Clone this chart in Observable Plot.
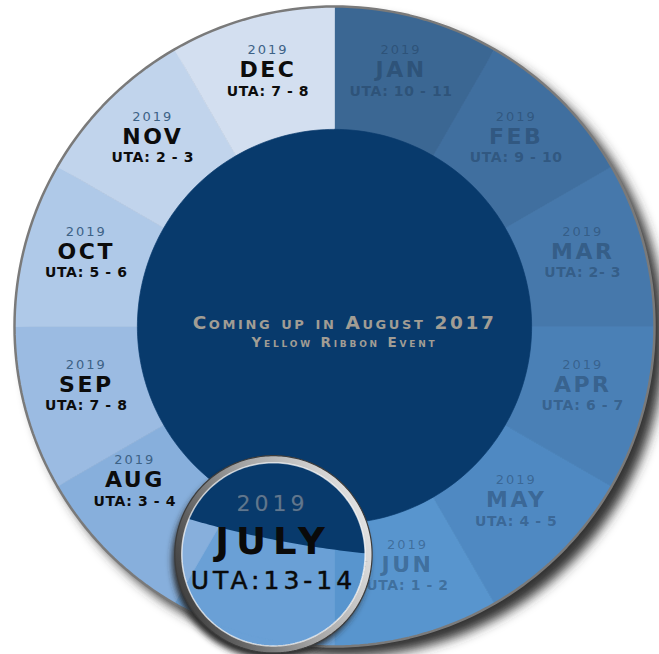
<!DOCTYPE html>
<html>
<head>
<meta charset="utf-8">
<script src="https://cdn.jsdelivr.net/npm/d3@7"></script>
<script src="https://cdn.jsdelivr.net/npm/@observablehq/plot@0.6"></script>
<style>
  body { margin: 0; background: #fff; }
  svg { display: block; }
  g.lbl-year text { letter-spacing: 2px; }
  g.lbl-month text { letter-spacing: 2.5px; }
  g.lbl-uta text { letter-spacing: 0.6px; }
  g.center-title text { letter-spacing: 2.6px; }
  g.center-subtitle text { letter-spacing: 2.8px; }
  g.lens-year text { letter-spacing: 4px; }
  g.lens-month text { letter-spacing: 7px; }
  g.lens-uta text { letter-spacing: 4px; }
</style>
</head>
<body>
<div id="chart"></div>
<script>
// ---- data ----
const months = ["JAN", "FEB", "MAR", "APR", "MAY", "JUN", "JULY", "AUG", "SEP", "OCT", "NOV", "DEC"];
const years = ["2019", "2019", "2019", "2019", "2019", "2019", "2019", "2019", "2019", "2019", "2019", "2019"];
const utaLabels = ["UTA: 10 - 11", "UTA: 9 - 10", "UTA: 2- 3", "UTA: 6 - 7", "UTA: 4 - 5", "UTA: 1 - 2",
                   "UTA:13-14", "UTA: 3 - 4", "UTA: 7 - 8", "UTA: 5 - 6", "UTA: 2 - 3", "UTA: 7 - 8"];
const shares = [1, 1, 1, 1, 1, 1, 1, 1, 1, 1, 1, 1];
const segmentColors = ["#3b6793", "#406f9f", "#4678ab", "#4a80b6", "#4f89c2", "#5895ce",
                       "#6aa0d6", "#87afdc", "#9bbbe2", "#afc9e8", "#c1d4ec", "#d3dff0"];
const highlightMonth = "JULY";
const centerTitle = "Coming up in August 2017";
const centerSubtitle = "Yellow Ribbon Event";

// ---- geometry (derived) ----
const W = 659, H = 654;
const deg = Math.PI / 180;
const innerR = 0.616, labelR = 0.803;
const total = d3.sum(shares);
let acc = 0;
const segs = months.map((m, i) => {
  const a0 = acc / total * 2 * Math.PI; acc += shares[i];
  const a1 = acc / total * 2 * Math.PI;
  return {i, month: m, year: years[i], uta: utaLabels[i], color: segmentColors[i], a0, a1, mid: (a0 + a1) / 2};
});
const hi = months.indexOf(highlightMonth);
const polar = (a, r) => [r * Math.sin(a), r * Math.cos(a)];
const N = 48;
const wedgePts = segs.flatMap(s => {
  const pts = [{k: s.month, x: 0, y: 0, color: s.color}];
  for (let j = 0; j <= N; j++) {
    const [x, y] = polar(s.a0 + (s.a1 - s.a0) * j / N, 1);
    pts.push({k: s.month, x, y, color: s.color});
  }
  pts.push({k: s.month, x: 0, y: 0, color: s.color});
  return pts;
});
const circle = (cx, cy, r, n = 240) => d3.range(n + 1).map(j => {
  const a = 2 * Math.PI * j / n;
  return {x: cx + r * Math.sin(a), y: cy + r * Math.cos(a)};
});
// labels of the neighbours of the lens are pushed away from it
const labels = segs.filter(s => s.i !== hi).map(s => {
  const push = s.i === hi + 1 ? 6 * deg : s.i === hi - 1 ? -1.5 * deg : 0;
  const [x, y] = polar(s.mid + push, labelR);
  return {...s, x, y, past: s.i < hi};
});
// lens over the highlighted month
const hs = segs[hi];
const lensR = 0.288;
const [lcx, lcy] = polar(hs.mid, 0.737);
const lensZoom = 5;
const [fx, fy] = polar(hs.mid - 4 * deg, 0.625);     // point under the lens being magnified
const magCx = lcx - lensZoom * fx, magCy = lcy - lensZoom * fy;
const lensText = [{x: lcx, y: lcy, year: hs.year, month: hs.month, uta: hs.uta}];

const pxPerUnit = 320;
const plot = Plot.plot({
  width: W, height: H,
  marginLeft: 14, marginRight: 5, marginTop: 6, marginBottom: 8,
  x: {domain: [-1, 1], axis: null},
  y: {domain: [-1, 1], axis: null},
  color: {type: "identity"},
  style: {background: "#fff", overflow: "visible"},
  marks: [
    // drop shadow
    Plot.line(circle(0, 0, 1), {x: "x", y: "y", fill: "#333", stroke: "none", dx: 10, dy: 10, className: "shadow"}),
    // wedges
    Plot.line(wedgePts, {x: "x", y: "y", z: "k", fill: "color", stroke: "color", strokeWidth: 0.7}),
    // rim outline
    Plot.line(circle(0, 0, 1), {x: "x", y: "y", stroke: "#7a7a7a", strokeWidth: 2.5}),
    // center disk
    Plot.line(circle(0, 0, innerR), {x: "x", y: "y", fill: "#083a6c", stroke: "#083a6c", strokeWidth: 0.7}),
    // labels
    Plot.text(labels, {x: "x", y: "y", text: "year", dy: -28, fontSize: 13, fontFamily: "DejaVu Sans",
      fill: d => d.past ? "#1a3350" : "#3d6286", fillOpacity: d => d.past ? 0.4 : 1, className: "lbl-year"}),
    Plot.text(labels, {x: "x", y: "y", text: "month", dy: -8, fontSize: 22, fontWeight: "bold", fontFamily: "DejaVu Sans",
      fill: d => d.past ? "#1a3350" : "#0c0c0c", fillOpacity: d => d.past ? 0.4 : 1, className: "lbl-month"}),
    Plot.text(labels, {x: "x", y: "y", text: "uta", dy: 13, fontSize: 14, fontWeight: "bold", fontFamily: "DejaVu Sans",
      fill: d => d.past ? "#1a3350" : "#0c0c0c", fillOpacity: d => d.past ? 0.4 : 1, className: "lbl-uta"}),
    // center text
    Plot.text([centerTitle], {x: 0, y: 0, text: d => d, dx: 10, dy: -3, fontSize: 18.5, fontWeight: "bold",
      fontVariant: "small-caps", fontFamily: "DejaVu Sans", fill: "#a19d94", className: "center-title"}),
    Plot.text([centerSubtitle], {x: 0, y: 0, text: d => d, dx: 10, dy: 16, fontSize: 13.5, fontWeight: "bold",
      fontVariant: "small-caps", fontFamily: "DejaVu Sans", fill: "#a19d94", className: "center-subtitle"}),
    // lens shadow
    Plot.line(circle(lcx, lcy, lensR + 6 / pxPerUnit), {x: "x", y: "y", fill: "#2a2a2a", stroke: "none", dx: -3, dy: 6, className: "lens-shadow"}),
    // lens content (clipped)
    Plot.line(circle(lcx, lcy, lensR), {x: "x", y: "y", fill: hs.color, stroke: "none", className: "lens-content"}),
    Plot.line(wedgePts, {x: "x", y: "y", z: "k", fill: "color", stroke: "color", strokeWidth: 0.7, className: "lens-content"}),
    Plot.line(circle(magCx, magCy, innerR * lensZoom, 1440), {x: "x", y: "y", fill: "#083a6c", stroke: "none", className: "lens-content"}),
    // lens rim
    Plot.line(circle(lcx, lcy, lensR + 3 / pxPerUnit), {x: "x", y: "y", stroke: "url(#rimGrad)", strokeWidth: 7}),
    Plot.line(circle(lcx, lcy, lensR + 6.5 / pxPerUnit), {x: "x", y: "y", stroke: "#3c3c3c", strokeWidth: 1.2}),
    Plot.line(circle(lcx, lcy, lensR - 0.5 / pxPerUnit), {x: "x", y: "y", stroke: "#ffffff", strokeOpacity: 0.7, strokeWidth: 1.5}),
    // lens text
    Plot.text(lensText, {x: "x", y: "y", text: "year", dx: -1, dy: -50, fontSize: 22, fontFamily: "DejaVu Sans",
      fill: "#5f7790", stroke: "#2b3f55", strokeWidth: 0.6, className: "lens-year"}),
    Plot.text(lensText, {x: "x", y: "y", text: "month", dx: 0, dy: -12, fontSize: 37, fontWeight: "bold", fontFamily: "DejaVu Sans",
      fill: "#0a0a0a", className: "lens-month"}),
    Plot.text(lensText, {x: "x", y: "y", text: "uta", dx: 0, dy: 27, fontSize: 25, fontFamily: "DejaVu Sans",
      fill: "#0a0a0a", stroke: "#0a0a0a", strokeWidth: 0.5, className: "lens-uta"})
  ]
});

// post-processing: filters, clip, gradient
const svg = d3.select(plot);
const sx = plot.scale("x"), sy = plot.scale("y");
const defs = svg.insert("defs", ":first-child");
const blur = defs.append("filter").attr("id", "blurShadow").attr("x", "-20%").attr("y", "-20%").attr("width", "140%").attr("height", "140%");
blur.append("feGaussianBlur").attr("stdDeviation", 6);
const blur2 = defs.append("filter").attr("id", "blurLens").attr("x", "-30%").attr("y", "-30%").attr("width", "160%").attr("height", "160%");
blur2.append("feGaussianBlur").attr("stdDeviation", 3);
const grad = defs.append("linearGradient").attr("id", "rimGrad").attr("x1", "1").attr("y1", "0.3").attr("x2", "0").attr("y2", "0.7");
grad.append("stop").attr("offset", "0%").attr("stop-color", "#e4e4e4");
grad.append("stop").attr("offset", "50%").attr("stop-color", "#a0a0a0");
grad.append("stop").attr("offset", "100%").attr("stop-color", "#3e3e3e");
const cxp = sx.apply(lcx), cyp = sy.apply(lcy), rp = sx.apply(lensR) - sx.apply(0);
defs.append("clipPath").attr("id", "lensClip").append("circle").attr("cx", cxp).attr("cy", cyp).attr("r", rp);
svg.selectAll("g.shadow").attr("filter", "url(#blurShadow)");
svg.selectAll("g.lens-shadow").attr("filter", "url(#blurLens)");
svg.selectAll("g.lens-content").each(function () {
  const wrap = document.createElementNS("http://www.w3.org/2000/svg", "g");
  wrap.setAttribute("clip-path", "url(#lensClip)");
  this.parentNode.insertBefore(wrap, this);
  wrap.appendChild(this);
});

document.getElementById("chart").appendChild(plot);
</script>
</body>
</html>
